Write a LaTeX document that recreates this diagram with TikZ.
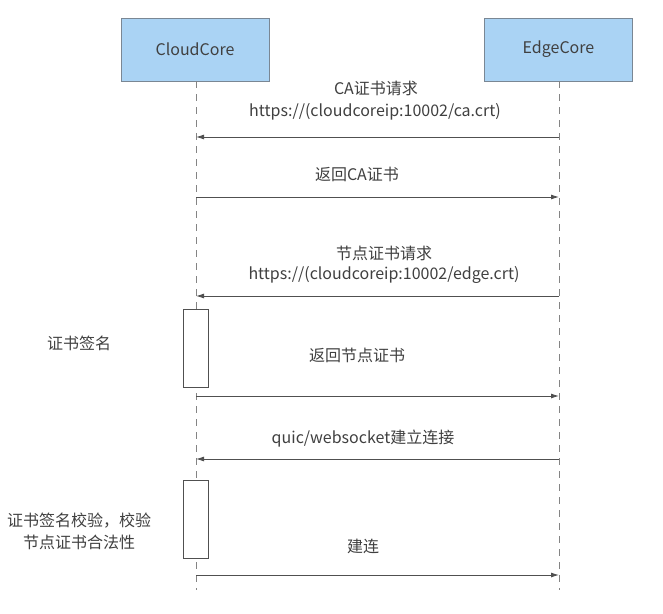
\documentclass[tikz,border=0pt]{standalone}
\usepackage{fontspec}
\setmainfont{Noto Sans CJK SC}
\usepackage{tikz}
\usetikzlibrary{arrows.meta}
\definecolor{boxblue}{HTML}{AAD3F4}
\definecolor{boxline}{HTML}{7A8794}
\definecolor{txt}{HTML}{404040}
\definecolor{ln}{HTML}{505050}
\tikzset{arrow/.style={->, >={Latex[length=8pt,width=5pt]}, draw=ln, line width=0.9pt}}
\tikzset{actor/.style={draw=boxline, fill=boxblue, line width=0.9pt, minimum width=148pt, minimum height=63pt, text=txt}}
\tikzset{lifeline/.style={draw=ln!70, dash pattern=on 7pt off 6pt, line width=0.7pt}}
\tikzset{act/.style={draw=ln, fill=white, line width=0.8pt, minimum width=25pt, minimum height=78pt, inner sep=0pt}}
\tikzset{lbl/.style={text=txt, inner sep=0pt, align=center}}

\begin{document}
\begin{tikzpicture}[x=1pt, y=-1pt, font=\fontsize{16}{22}\selectfont]
    \useasboundingbox[fill=white] (0,0) rectangle (663,613);
    \node[actor] (cloud) at (195, 49.5) {CloudCore};
    \node[actor] (edge) at (558.5, 49.5) {EdgeCore};
    \coordinate (cloudend) at (196, 590);
    \coordinate (edgeend) at (559, 590);
    \draw[lifeline] (cloud.south -| cloudend) -- (cloudend);
    \draw[lifeline] (edge.south -| edgeend) -- (edgeend);
    \node[act] (sign) at (195.5, 348) {};
    \node[act] (check) at (195.5, 519.5) {};
    % message end points
    \coordinate (e1) at (559, 137);
    \coordinate (c1) at (196, 137);
    \coordinate (c2) at (196, 197);
    \coordinate (e2) at (559, 197);
    \coordinate (e3) at (559, 296);
    \coordinate (c3) at (196, 296);
    \coordinate (c4) at (196, 396);
    \coordinate (e4) at (559, 396);
    \coordinate (e5) at (559, 459);
    \coordinate (c5) at (196, 459);
    \coordinate (c6) at (196, 575);
    \coordinate (e6) at (559, 575);
    \draw[arrow] (e1) -- (c1);
    \draw[arrow] (c2) -- (e2);
    \draw[arrow] (e3) -- (c3);
    \draw[arrow] (c4) -- (e4);
    \draw[arrow] (e5) -- (c5);
    \draw[arrow] (c6) -- (e6);
    \node[lbl] (careq) at (376, 88) {CA证书请求};
    \node[lbl] (caurl) at (375, 112) {https://(cloudcoreip:10002/ca.crt)};
    \node[lbl] (caret) at (357, 174) {返回CA证书};
    \node[lbl] (nodereq) at (384, 253) {节点证书请求};
    \node[lbl] (nodeurl) at (384, 275) {https://(cloudcoreip:10002/edge.crt)};
    \node[lbl] (noderet) at (357, 355) {返回节点证书};
    \node[lbl] (quic) at (363, 439) {quic/websocket建立连接};
    \node[lbl] (conn) at (363, 546) {建连};
    \node[lbl] (signtxt) at (79, 343) {证书签名};
    \node[lbl] (checktxt) at (79, 531) {证书签名校验，校验\\节点证书合法性};
  \end{tikzpicture}
\end{document}
